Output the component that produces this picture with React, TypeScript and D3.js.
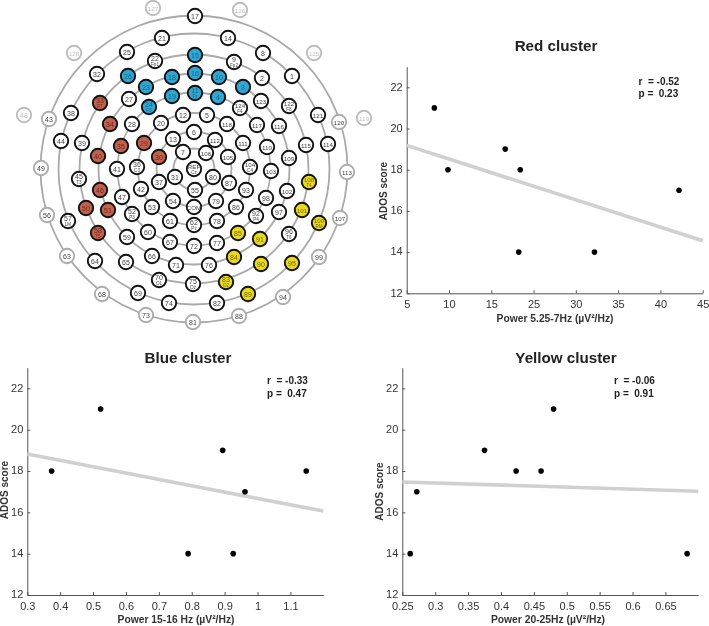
import { useEffect, useRef } from "react";
import * as d3 from "d3";

// montage: label, x, y, optional 10-20 name
const sensors: [string, number, number, string?][] = [
  ["1", 292, 76], ["2", 262, 78], ["3", 243, 87], ["4", 218, 97], ["5", 207, 115],
  ["6", 194, 132], ["7", 183, 152], ["8", 263, 53], ["9", 234, 62, "Fp2"], ["10", 219, 77],
  ["11", 195, 93, "Fz"], ["12", 183, 115], ["13", 173, 139], ["14", 228, 38], ["15", 195, 55],
  ["16", 195, 73], ["17", 195, 16], ["18", 172, 77], ["19", 172, 96], ["20", 161, 123],
  ["21", 162, 38], ["22", 155, 61, "Fp1"], ["23", 146, 87], ["24", 149, 107, "F3"], ["25", 127, 52],
  ["26", 128, 76], ["27", 129, 99], ["28", 132, 124], ["29", 144, 143], ["30", 159, 157],
  ["31", 175, 177], ["32", 97, 74], ["33", 100, 103, "F7"], ["34", 110, 124], ["35", 121, 146],
  ["36", 137, 167, "C3"], ["37", 159, 182], ["38", 71, 113], ["39", 82, 143], ["40", 98, 156],
  ["41", 117, 169], ["42", 141, 189], ["43", 49, 119], ["44", 61, 141], ["45", 79, 179, "T3"],
  ["46", 100, 190], ["47", 122, 197], ["48", 24, 115], ["49", 41, 168], ["50", 86, 208],
  ["51", 108, 210], ["52", 132, 214, "P3"], ["53", 152, 207], ["54", 173, 201], ["55", 195, 190],
  ["56", 47, 215], ["57", 68, 221, "LM"], ["58", 98, 233, "T5"], ["59", 127, 237], ["60", 148, 232],
  ["61", 170, 221], ["62", 194, 225, "Pz"], ["63", 67, 256], ["64", 95, 261], ["65", 126, 262],
  ["66", 152, 256], ["67", 170, 242], ["68", 102, 294], ["69", 138, 293], ["70", 159, 280, "O1"],
  ["71", 176, 265], ["72", 194, 246], ["73", 146, 315], ["74", 169, 303], ["75", 193, 284, "Oz"],
  ["76", 209, 265], ["77", 217, 243], ["78", 217, 221], ["79", 216, 201], ["80", 213, 177],
  ["81", 193, 322], ["82", 217, 303], ["83", 226, 282, "O2"], ["84", 234, 257], ["85", 238, 233],
  ["86", 236, 207], ["87", 229, 183], ["88", 239, 316], ["89", 248, 294], ["90", 261, 264],
  ["91", 260, 239], ["92", 256, 216, "P4"], ["93", 246, 190], ["94", 283, 297], ["95", 292, 263],
  ["96", 289, 234, "T6"], ["97", 279, 212], ["98", 266, 198], ["99", 319, 257], ["100", 319, 223, "RM"],
  ["101", 302, 210], ["102", 287, 191], ["103", 271, 171], ["104", 250, 167, "C4"], ["105", 228, 157],
  ["106", 206, 153], ["107", 340, 218], ["108", 309, 182, "T4"], ["109", 289, 158], ["110", 267, 147],
  ["111", 243, 143], ["112", 215, 140], ["113", 347, 172], ["114", 328, 144], ["115", 306, 145],
  ["116", 279, 126], ["117", 257, 125], ["118", 227, 124], ["119", 364, 118], ["120", 339, 122],
  ["121", 318, 115], ["122", 289, 106, "F8"], ["123", 261, 101], ["124", 240, 108, "F4"], ["125", 314, 53],
  ["126", 240, 10], ["127", 153, 8], ["128", 74, 53], ["REF", 194, 169, "Cz"], ["COM", 194, 207],
];

const redCluster = ["33", "34", "35", "29", "30", "40", "46", "50", "51", "58"];
const blueCluster = ["15", "16", "11", "10", "4", "3", "26", "23", "18", "19", "24"];
const yellowCluster = ["108", "101", "100", "85", "91", "84", "90", "95", "83", "89"];
const rimSensors = ["120", "113", "107", "99", "94", "88", "81", "73", "68", "63", "56", "49", "43"];
const faintSensors = ["48", "119", "125", "126", "127", "128"];

// concentric rings around Cz
const ringRadii = [153.5, 135.5, 114.5, 95.5, 76.5, 56, 37.5, 20.5];

const redX = [8.27, 9.88, 18.3, 21.5, 21.85, 32.2, 42.2];
const redY = [21, 18, 19, 14, 18, 14, 17];
const redXTicks = [5, 10, 15, 25, 30, 35, 40, 45]; // no 20 on this axis
const redFitX = [5, 45];
const redFitY = [19.18, 14.55];

const blueX = [0.374, 0.523, 0.789, 0.894, 0.926, 0.962, 1.148];
const blueY = [18, 21, 14, 19, 14, 17, 18];
const blueXTicks = [0.3, 0.4, 0.5, 0.6, 0.7, 0.8, 0.9, 1, 1.1];
const blueFitX = [0.3, 1.2];
const blueFitY = [18.82, 16.06];

const yellowX = [0.262, 0.272, 0.375, 0.423, 0.461, 0.48, 0.683];
const yellowY = [14, 17, 19, 18, 18, 21, 14];
const yellowXTicks = [0.25, 0.3, 0.35, 0.4, 0.45, 0.5, 0.55, 0.6, 0.65];
const yellowFitX = [0.25, 0.7];
const yellowFitY = [17.47, 17.02];

const scoreTicks = [12, 14, 16, 18, 20, 22];

const FONT = "'Liberation Sans', Arial, sans-serif";

const panels = [
  {
    title: "Red cluster", xLabel: "Power 5.25-7Hz (µV²/Hz)", stats: ["r  = -0.52", "p =  0.23"],
    xs: redX, ys: redY, fitX: redFitX, fitY: redFitY, ticks: redXTicks, xDomain: redXTicks,
    left: 406.7, right: 702.7, top: 66.7, bottom: 293.3,
    titleX: 556, titleY: 51, labelX: 555, labelY: 322, yLabelX: 387, yLabelY: 191, statsX: 638.5, statsY: 84.5,
  },
  {
    title: "Blue cluster", xLabel: "Power 15-16 Hz (µV²/Hz)", stats: ["r  = -0.33", "p =  0.47"],
    xs: blueX, ys: blueY, fitX: blueFitX, fitY: blueFitY, ticks: blueXTicks, xDomain: blueFitX,
    left: 27.3, right: 323.3, top: 367.7, bottom: 595,
    titleX: 188, titleY: 363, labelX: 176, labelY: 623, yLabelX: 8, yLabelY: 490, statsX: 267, statsY: 384,
  },
  {
    title: "Yellow cluster", xLabel: "Power 20-25Hz (µV²/Hz)", stats: ["r  = -0.06", "p =  0.91"],
    xs: yellowX, ys: yellowY, fitX: yellowFitX, fitY: yellowFitY, ticks: yellowXTicks, xDomain: yellowFitX,
    left: 402.3, right: 698.3, top: 367.7, bottom: 595,
    titleX: 566, titleY: 363, labelX: 548, labelY: 623, yLabelX: 383, yLabelY: 491.5, statsX: 614, statsY: 384,
  },
];

const App = () => {
  const svgRef = useRef<SVGSVGElement | null>(null);

  useEffect(() => {
    const svg = d3.select(svgRef.current);
    svg.selectAll("*").remove();

    // head map
    const cz = sensors.find((s) => s[0] === "REF")!;

    svg.append("g")
      .selectAll("circle")
      .data(ringRadii)
      .join("circle")
      .attr("cx", cz[1])
      .attr("cy", cz[2])
      .attr("r", (d) => d)
      .attr("fill", "none")
      .attr("stroke", "#a9a9a9")
      .attr("stroke-width", 1.8);

    const colour = (id: string) => {
      if (redCluster.includes(id)) return "#c2604f";
      if (blueCluster.includes(id)) return "#31a6d0";
      if (yellowCluster.includes(id)) return "#e9d81d";
      return "#ffffff";
    };
    const textColour = (id: string) => {
      if (redCluster.includes(id)) return "#6e2a1f";
      if (blueCluster.includes(id)) return "#17658a";
      if (yellowCluster.includes(id)) return "#6f6710";
      if (faintSensors.includes(id)) return "#c0c0c0";
      return "#444444";
    };
    const edge = (id: string) => {
      if (faintSensors.includes(id)) return "#bdbdbd";
      if (rimSensors.includes(id)) return "#adadad";
      return "#111111";
    };

    const node = svg.append("g")
      .selectAll("g")
      .data(sensors)
      .join("g")
      .attr("transform", (d) => `translate(${d[1]},${d[2]})`)
      .attr("font-family", FONT)
      .attr("text-anchor", "middle");

    node.append("circle")
      .attr("r", 7.2)
      .attr("fill", (d) => colour(d[0]))
      .attr("stroke", (d) => edge(d[0]))
      .attr("stroke-width", 1.9);

    node.append("text")
      .attr("y", (d) => (d[3] ? 0 : 2.5))
      .attr("font-size", (d) => (d[0].length > 2 ? 6.2 : 7))
      .attr("fill", (d) => textColour(d[0]))
      .text((d) => d[0]);

    node.filter((d) => !!d[3])
      .append("text")
      .attr("y", 5.2)
      .attr("font-size", 4.6)
      .attr("fill", (d) => textColour(d[0]))
      .text((d) => d[3]!);

    // scatter panels
    panels.forEach((p) => {
      // evenly spread domain stops, so the skipped tick on the red axis still reads right
      const x = d3.scaleLinear()
        .domain(p.xDomain)
        .range(d3.quantize(d3.interpolateNumber(p.left, p.right), p.xDomain.length));
      const y = d3.scaleLinear().domain([12, 23]).range([p.bottom, p.top]);

      const g = svg.append("g");

      const xAxis = g.append("g")
        .attr("transform", `translate(0,${p.bottom})`)
        .call(d3.axisBottom(x)
          .tickValues(p.ticks)
          .tickFormat((d) => String(d))
          .tickSize(-3)
          .tickSizeOuter(0)
          .tickPadding(7));

      const yAxis = g.append("g")
        .attr("transform", `translate(${p.left},0)`)
        .call(d3.axisLeft(y)
          .tickValues(scoreTicks)
          .tickFormat(d3.format("d"))
          .tickSize(-3)
          .tickSizeOuter(0)
          .tickPadding(4));

      [xAxis, yAxis].forEach((a) => {
        a.attr("font-family", FONT).attr("font-size", 11);
        a.selectAll("path").attr("stroke", "#555").attr("stroke-width", 1);
        a.selectAll("line").attr("stroke", "#555").attr("stroke-width", 1);
        a.selectAll("text").attr("fill", "#333");
      });
      yAxis.selectAll("text").attr("dy", "0.25em");

      const fit = d3.line<number>()
        .x((d) => x(d))
        .y((_, i) => y(p.fitY[i]));

      g.append("path")
        .attr("d", fit(p.fitX))
        .attr("fill", "none")
        .attr("stroke", "#d0d0d0")
        .attr("stroke-width", 3.6);

      g.append("g")
        .selectAll("circle")
        .data(p.xs)
        .join("circle")
        .attr("cx", (d) => x(d))
        .attr("cy", (_, i) => y(p.ys[i]))
        .attr("r", 2.8)
        .attr("fill", "#000");

      g.append("text")
        .attr("x", p.titleX)
        .attr("y", p.titleY)
        .attr("text-anchor", "middle")
        .attr("font-family", FONT)
        .attr("font-weight", "bold")
        .attr("font-size", 15.2)
        .attr("fill", "#222")
        .text(p.title);

      g.append("text")
        .attr("x", p.labelX)
        .attr("y", p.labelY)
        .attr("text-anchor", "middle")
        .attr("font-family", FONT)
        .attr("font-weight", "bold")
        .attr("font-size", 10.3)
        .attr("fill", "#333")
        .text(p.xLabel);

      g.append("text")
        .attr("transform", `translate(${p.yLabelX},${p.yLabelY}) rotate(-90)`)
        .attr("text-anchor", "middle")
        .attr("font-family", FONT)
        .attr("font-weight", "bold")
        .attr("font-size", 10)
        .attr("fill", "#333")
        .text("ADOS score");

      g.append("g")
        .selectAll("text")
        .data(p.stats)
        .join("text")
        .attr("x", p.statsX)
        .attr("y", (_, i) => p.statsY + i * 12.6)
        .attr("font-family", FONT)
        .attr("font-weight", "bold")
        .attr("font-size", 10)
        .attr("fill", "#222")
        .style("white-space", "pre")
        .text((d) => d);
    });
  }, []);

  return (
    <svg
      ref={svgRef}
      width={709}
      height={626}
      style={{ position: "absolute", left: 0, top: 0, background: "#fff", filter: "blur(0.3px)" }}
    ></svg>
  );
};

export default App;
